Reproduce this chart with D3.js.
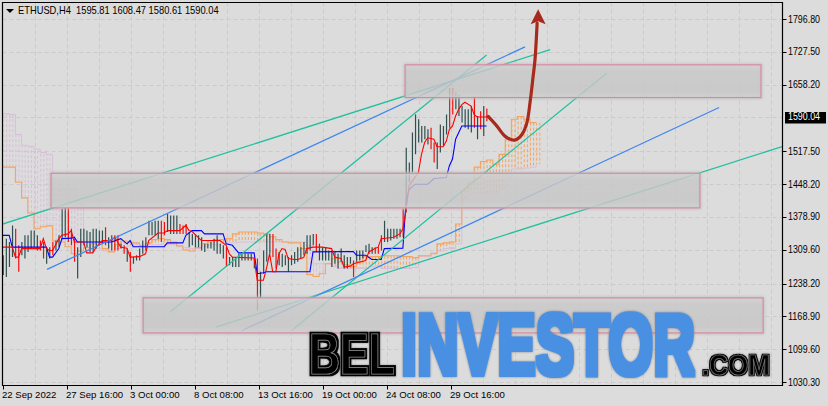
<!DOCTYPE html>
<html><head><meta charset="utf-8">
<script src="https://cdn.jsdelivr.net/npm/d3@7"></script>
<style>html,body{margin:0;padding:0;background:#dcdcdc}svg{display:block}text{font-family:"Liberation Sans",Arial,sans-serif}</style>
</head><body><div id="chart"></div>
<script>
const title = "ETHUSD,H4  1595.81 1608.47 1580.61 1590.04";
const lastPrice = 1590.04;
const priceTicks = [1796.80,1727.50,1658.20,1517.50,1448.20,1378.90,1309.60,1238.20,1168.90,1099.60,1030.30];
const timeLabels = ["22 Sep 2022","27 Sep 16:00","3 Oct 00:00","8 Oct 08:00","13 Oct 16:00","19 Oct 00:00","24 Oct 08:00","29 Oct 16:00"];
const highs = [1298,1333,1326,1361,1354,1319,1326,1340,1340,1350,1350,1340,1329,1326,1315,1315,1326,1329,1340,1396,1399,1399,1354,1333,1315,1354,1354,1350,1347,1354,1354,1350,1350,1357,1336,1340,1340,1340,1322,1319,1312,1305,1294,1298,1312,1329,1336,1371,1368,1371,1371,1371,1368,1385,1382,1382,1382,1364,1361,1364,1347,1343,1340,1340,1336,1322,1322,1326,1333,1340,1322,1319,1315,1294,1294,1294,1301,1305,1301,1301,1301,1291,1291,1263,1308,1343,1343,1343,1312,1305,1301,1298,1294,1298,1305,1315,1315,1326,1340,1340,1343,1343,1322,1315,1315,1308,1308,1305,1301,1312,1298,1294,1294,1287,1308,1308,1308,1319,1322,1315,1315,1315,1340,1371,1354,1354,1354,1354,1354,1396,1525,1494,1557,1595,1585,1571,1571,1564,1567,1536,1536,1574,1571,1595,1651,1651,1641,1637,1613,1606,1606,1613,1634,1592,1602,1613,1608];
const lows = [1256,1252,1273,1294,1291,1263,1298,1291,1305,1312,1315,1308,1308,1291,1280,1291,1298,1308,1315,1333,1336,1326,1319,1284,1249,1294,1319,1315,1305,1305,1312,1319,1322,1319,1312,1308,1308,1308,1312,1301,1284,1263,1280,1287,1287,1301,1308,1340,1340,1340,1333,1326,1340,1347,1343,1343,1343,1343,1343,1343,1315,1319,1315,1315,1308,1305,1312,1312,1308,1301,1301,1291,1273,1277,1273,1273,1273,1287,1287,1287,1287,1270,1182,1206,1259,1284,1301,1294,1270,1277,1273,1277,1263,1277,1280,1284,1291,1298,1301,1308,1319,1305,1287,1287,1287,1287,1273,1280,1270,1284,1270,1270,1280,1252,1284,1287,1291,1305,1301,1301,1301,1301,1308,1326,1326,1329,1333,1333,1336,1336,1389,1452,1473,1511,1536,1536,1543,1532,1522,1494,1480,1515,1529,1553,1567,1595,1606,1592,1578,1567,1564,1557,1567,1543,1564,1550,1581];
const redBars = [4,5,12,13,16,21,22,23,33,36,37,39,41,51,52,57,58,59,72,82,87,88,101,113,120,121,122,129,138,139,144,145,152,154,156];
const tenkanBars = [0,3,4,5,6,12,13,14,15,16,18,19,21,22,23,26,27,29,30,31,32,35,36,37,38,40,41,44,46,47,50,52,53,57,59,60,61,64,70,72,73,74,81,82,84,85,86,87,88,89,90,91,92,94,95,97,98,100,103,106,107,109,110,112,113,117,118,120,121,122,126,128,129,130,131,134,135,136,137,139,140,142,143,144,145,146,147,148,149,151,152,153,156];
const tenkanVals = [1315,1315,1294,1294,1312,1312,1333,1312,1308,1308,1333,1340,1343,1350,1326,1326,1303,1303,1315,1322,1329,1329,1336,1326,1315,1313,1294,1295,1301,1329,1345,1345,1350,1350,1361,1350,1348,1329,1329,1319,1301,1294,1292,1245,1245,1270,1301,1263,1263,1301,1312,1310,1291,1289,1289,1293,1312,1315,1315,1312,1294,1291,1273,1275,1280,1287,1305,1312,1315,1333,1336,1343,1354,1392,1445,1473,1511,1536,1546,1543,1527,1527,1539,1564,1571,1592,1606,1616,1621,1613,1595,1590,1590];
const kijunBars = [0,2,3,14,15,16,18,19,22,23,24,31,35,38,40,41,42,52,53,58,59,61,64,65,71,72,74,76,81,82,84,85,99,100,113,114,117,119,122,123,129,130,131,133,137,139,143,144,145,146,148,156];
const kijunVals = [1340,1340,1315,1315,1294,1294,1312,1333,1334,1336,1326,1326,1326,1333,1322,1329,1316,1316,1324,1324,1340,1350,1350,1343,1343,1322,1319,1303,1303,1259,1261,1263,1263,1305,1306,1298,1298,1289,1289,1312,1313,1410,1437,1448,1448,1460,1462,1487,1501,1543,1571,1571];
const spanA = [1484,1484,1452,1419,1387,1354,1358,1360,1328,1326,1316,1301,1307,1314,1322,1326,1312,1305,1320,1328,1326,1324,1318,1324,1331,1333,1331,1326,1318,1309,1307,1314,1322,1328,1331,1331,1333,1343,1347,1347,1347,1345,1343,1337,1331,1326,1324,1324,1312,1257,1253,1259,1280,1291,1284,1278,1274,1284,1295,1295,1295,1297,1297,1297,1295,1295,1293,1297,1297,1301,1322,1324,1326,1364,1434,1452,1484,1496,1499,1490,1511,1543,1585,1591,1585,1578,1578];
const spanB = [1597,1595,1553,1530,1528,1522,1515,1511,1438,1438,1438,1438,1406,1326,1316,1312,1307,1307,1312,1316,1318,1320,1320,1320,1320,1320,1320,1320,1316,1314,1312,1312,1316,1320,1320,1322,1324,1324,1326,1326,1326,1326,1326,1326,1326,1326,1326,1326,1326,1318,1280,1280,1280,1274,1270,1270,1270,1270,1270,1274,1276,1270,1270,1270,1270,1270,1272,1295,1295,1303,1307,1312,1312,1322,1417,1427,1427,1427,1427,1427,1438,1459,1480,1480,1482,1484,1490];
const zoneStart = [129.7,15.5,45.2];
const zoneEnd = [244.5,224.8,245.2];
const zoneTop = [1700,1471,1208];
const zoneBottom = [1631,1398,1134];
const tealLines = [[[-1,1362],[176.5,1732]],[[53.9,1178],[156,1721]],[[92.9,1138],[194.8,1683]],[[68.7,1146],[251.6,1528]]];
const blueLines = [[[14.2,1268],[168.4,1738]],[[76.8,1138],[231,1610]]];
const forecastBars = [156.5,159.4,162,165,167.4,169,170,171,171.6,172.3];
const forecastVals = [1591,1570,1549,1541,1553,1578,1620,1675,1710,1788];

const W=828,H=406,L=2.5,R=782.5,T=2.5,B=385.5;
const x=d3.scaleLinear().domain([0,32]).range([3,3+32*3.1]);
const y=d3.scaleLinear().domain([1030.3,1796.8]).range([382,19]);
const labelX=d3.scaleLinear().domain([0,7]).range([3,451]);
const svg=d3.select("#chart").append("svg").attr("width",W).attr("height",H);
const defs=svg.append("defs");
defs.append("clipPath").attr("id","plot").append("rect").attr("x",L).attr("y",T).attr("width",R-L).attr("height",B-T);
const g=defs.append("linearGradient").attr("id","zone").attr("x1",0).attr("x2",0).attr("y1",0).attr("y2",1);
[[0,"#d2d2d2"],[.18,"#c8c8c8"],[.82,"#c6c6c6"],[1,"#d0d0d0"]].forEach(s=>g.append("stop").attr("offset",s[0]).attr("stop-color",s[1]));
const blur=defs.append("filter").attr("id","soft").attr("x","-5%").attr("y","-20%").attr("width","110%").attr("height","140%");
blur.append("feGaussianBlur").attr("stdDeviation",1.6);
function logoFilter(id,color,r){
 const f=defs.append("filter").attr("id",id).attr("x","-5%").attr("y","-15%").attr("width","110%").attr("height","130%");
 f.append("feMorphology").attr("in","SourceAlpha").attr("operator","dilate").attr("radius",r).attr("result","fat");
 f.append("feFlood").attr("flood-color",color).attr("result","c");
 f.append("feComposite").attr("in","c").attr("in2","fat").attr("operator","in").attr("result","body");
 f.append("feGaussianBlur").attr("in","fat").attr("stdDeviation",1.3).attr("result","b");
 f.append("feFlood").attr("flood-color","#444").attr("flood-opacity",.55).attr("result","s");
 f.append("feComposite").attr("in","s").attr("in2","b").attr("operator","in").attr("result","shadow");
 const m=f.append("feMerge");
 ["shadow","body","SourceGraphic"].forEach(n=>m.append("feMergeNode").attr("in",n));
}
logoFilter("fBlack","#000",2);
logoFilter("fSmall","#000",1.1);
logoFilter("fBlue","#4a90e2",2.6);

svg.append("rect").attr("width",W).attr("height",H).attr("fill","#dcdcdc");
const plot=svg.append("g").attr("clip-path","url(#plot)");
// grid
const gridX=d3.range(0,24).map(k=>35+32*k).filter(v=>v<R);
plot.selectAll(".gx").data(gridX).join("line").attr("x1",d=>d+.5).attr("x2",d=>d+.5).attr("y1",T).attr("y2",B)
 .attr("stroke","#cbcbcb").attr("stroke-dasharray","4,3");
const gridY=priceTicks.concat([1588.9]);
plot.selectAll(".gy").data(gridY).join("line").attr("x1",L).attr("x2",R).attr("y1",d=>Math.round(y(d))+.5).attr("y2",d=>Math.round(y(d))+.5)
 .attr("stroke","#cbcbcb").attr("stroke-dasharray","4,3");

// cloud hatch
const cloud=spanA.map((a,c)=>({c,a,b:spanB[c]}));
const hatch=plot.append("g").attr("stroke-width",1).attr("stroke-dasharray","3,2");
cloud.forEach(d=>{[0,1].forEach(o=>{
 hatch.append("line").attr("x1",x(d.c*2+o)+.5).attr("x2",x(d.c*2+o)+.5).attr("y1",y(d.a)).attr("y2",y(d.b))
  .attr("stroke",d.a>=d.b?"#f4a460":"#d8bfd8");
});});
const spanLine=v=>d3.line().x((d,i)=>x(i*2)).y(d=>y(d)).curve(d3.curveStepAfter)(v);
plot.append("path").attr("d",spanLine(spanB)).attr("fill","none").attr("stroke","#d8bfd8").attr("stroke-width",1);
plot.append("path").attr("d",spanLine(spanA)).attr("fill","none").attr("stroke","#f4a460").attr("stroke-width",1.1);

// bars
plot.selectAll(".bar").data(highs).join("line")
 .attr("x1",(d,i)=>x(i)+.25).attr("x2",(d,i)=>x(i)+.25).attr("y1",d=>y(d)).attr("y2",(d,i)=>y(lows[i]))
 .attr("stroke",(d,i)=>redBars.includes(i)?"#f01010":"#2f4f4f").attr("stroke-width",1.2);

// indicator lines
const pair=(bars,vals)=>d3.line().x(i=>x(bars[i])).y(i=>y(vals[i]))(d3.range(bars.length));
plot.append("path").attr("d",pair(kijunBars,kijunVals)).attr("fill","none").attr("stroke","#0000ff").attr("stroke-width",1.1);
plot.append("path").attr("d",pair(tenkanBars,tenkanVals)).attr("fill","none").attr("stroke","#ff0000").attr("stroke-width",1.1);

// trend lines
const seg=d3.line().x(d=>x(d[0])).y(d=>y(d[1]));
plot.selectAll(".teal").data(tealLines).join("path").attr("d",seg).attr("fill","none").attr("stroke","#22c0a0").attr("stroke-width",1.25);
plot.selectAll(".blue").data(blueLines).join("path").attr("d",seg).attr("fill","none").attr("stroke","#3f86ee").attr("stroke-width",1.25);

// zones
const zones=zoneStart.map((s,i)=>({s,e:zoneEnd[i],t:zoneTop[i],b:zoneBottom[i]}));
plot.selectAll(".zs").data(zones).join("rect").attr("x",d=>x(d.s)).attr("width",d=>x(d.e)-x(d.s)).attr("y",d=>y(d.t)).attr("height",d=>y(d.b)-y(d.t))
 .attr("fill","none").attr("stroke","#bdbdbd").attr("stroke-width",2.5).attr("filter","url(#soft)");
plot.selectAll(".z").data(zones).join("rect").attr("x",d=>x(d.s)).attr("width",d=>x(d.e)-x(d.s)).attr("y",d=>y(d.t)).attr("height",d=>y(d.b)-y(d.t))
 .attr("fill","url(#zone)").attr("fill-opacity",.82).attr("stroke","#d9859f").attr("stroke-width",1.1);

// forecast arrow
plot.append("path").datum(d3.range(forecastBars.length)).attr("d",d3.line().x(i=>x(forecastBars[i])).y(i=>y(forecastVals[i])).curve(d3.curveCatmullRom))
 .attr("fill","none").attr("stroke","#a82a1c").attr("stroke-width",3.2).attr("stroke-linecap","round");
const tipI=forecastBars.length-1, tx=x(forecastBars[tipI])+1, ty=y(forecastVals[tipI]);
plot.append("path").attr("d",`M${tx},${ty-14}L${tx-7.5},${ty+1}L${tx},${ty-2}L${tx+7.5},${ty+1}Z`).attr("fill","#a82a1c");

// frame
svg.append("path").attr("d",`M${L},${T}H${R}V${B}H${L}Z`).attr("fill","none").attr("stroke","#000").attr("stroke-width",1.2);

// text fitted to a width by scaling it horizontally, so its box matches what is drawn
function fit(sel,x0,base,w){
 sel.attr("x",0).attr("y",0);
 const n=sel.node().getComputedTextLength();
 sel.attr("transform",`translate(${x0},${base}) scale(${w/n},1)`);
 return sel;
}
// axes
const yAxis=svg.append("g");
yAxis.selectAll("line").data(priceTicks).join("line").attr("x1",R).attr("x2",R+4).attr("y1",d=>Math.round(y(d))+.5).attr("y2",d=>Math.round(y(d))+.5).attr("stroke","#000");
priceTicks.forEach(d=>fit(yAxis.append("text").attr("font-size",10).attr("fill","#000").text(d.toFixed(2)),788,y(d)+3.5,32));
svg.append("rect").attr("x",785).attr("y",112).attr("width",41).attr("height",11.5).attr("fill","#000");
fit(svg.append("text").attr("font-size",10).attr("fill","#fff").text(lastPrice.toFixed(2)),788,y(lastPrice)+3.5,32);
const xAxis=svg.append("g");
xAxis.selectAll("line").data(timeLabels).join("line").attr("x1",(d,i)=>Math.round(labelX(i))+.5).attr("x2",(d,i)=>Math.round(labelX(i))+.5).attr("y1",B).attr("y2",B+4).attr("stroke","#000");
xAxis.selectAll("text").data(timeLabels).join("text").attr("x",(d,i)=>labelX(i)-1).attr("y",398).attr("font-size",9.6).attr("fill","#000").text(d=>d);

// title
svg.append("path").attr("d","M6,9H14L10,13Z").attr("fill","#000");
fit(svg.append("text").attr("font-size",10).attr("fill","#000").style("white-space","pre").text(title),18,14,201);

// logo
const logo=svg.append("g").attr("font-weight",700);
function word(t,x0,w,base,size,fill,inner,filter){
 fit(logo.append("text").attr("font-size",size).text(t)
  .attr("fill",fill).attr("stroke",inner).attr("stroke-width",inner==="none"?0:.7).attr("filter",`url(#${filter})`),x0,base,w);
}
word("BEL",309,86,374,57,"#000","#8f8f8f","fBlack");
word("INVESTOR",401,294,374,86,"#4a90e2","none","fBlue");
word(".COM",702,68,375,29,"#000","#777","fSmall");
</script></body></html>
